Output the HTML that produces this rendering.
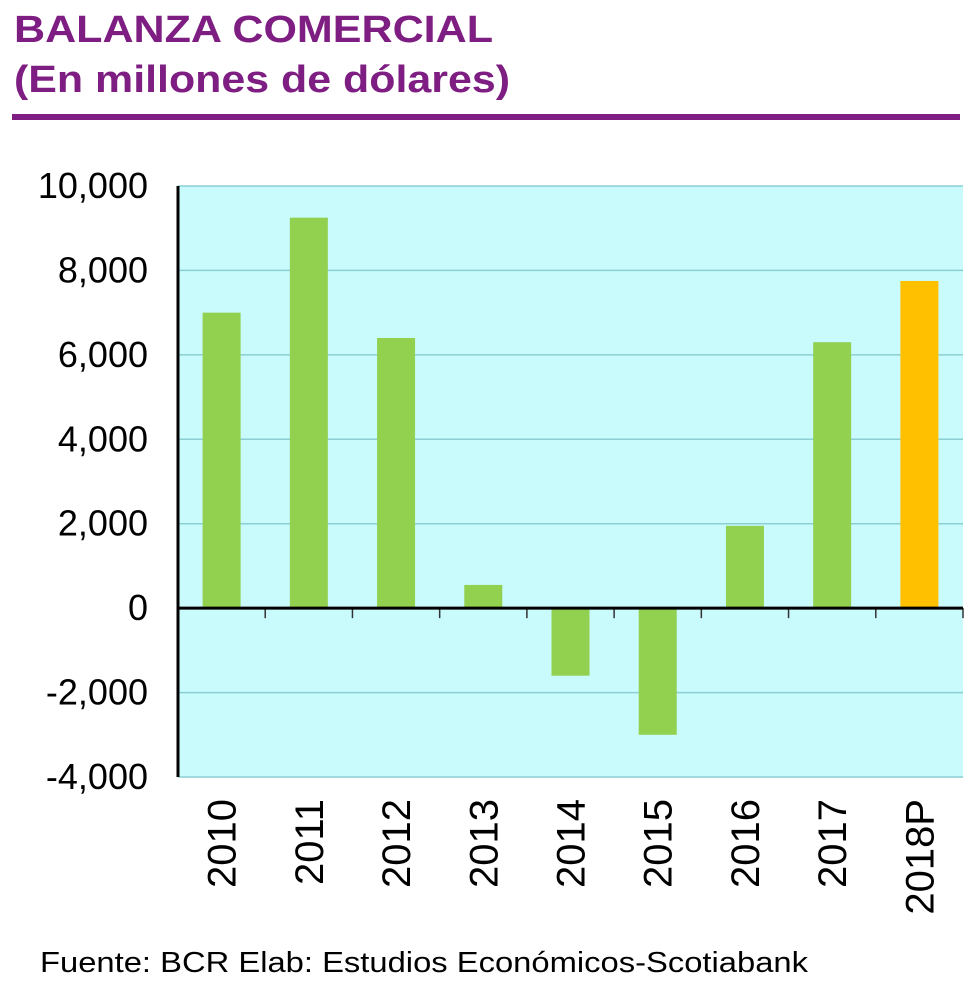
<!DOCTYPE html>
<html><head><meta charset="utf-8"><style>
body{margin:0;background:#fff;width:980px;height:983px;overflow:hidden;font-family:"Liberation Sans",Arial,sans-serif}
</style></head><body>
<svg width="980" height="983" xmlns="http://www.w3.org/2000/svg">
<text x="14" y="42" font-size="38" font-weight="bold" fill="#7e1e82" textLength="479" lengthAdjust="spacingAndGlyphs">BALANZA COMERCIAL</text>
<text x="14" y="92" font-size="38" font-weight="bold" fill="#7e1e82" textLength="496" lengthAdjust="spacingAndGlyphs">(En millones de dólares)</text>
<rect x="12" y="114" width="948" height="6" fill="#7e1e82"/>
<g id="plot"></g>
<text x="40" y="972" font-size="29" fill="#000" textLength="768" lengthAdjust="spacingAndGlyphs">Fuente: BCR  Elab: Estudios Económicos-Scotiabank</text>
</svg>
<script>
const categories=["2010","2011","2012","2013","2014","2015","2016","2017","2018P"];
const values=[7000,9250,6400,550,-1600,-3000,1950,6300,7750];
const colors=["#92d050","#92d050","#92d050","#92d050","#92d050","#92d050","#92d050","#92d050","#ffc000"];
const ticks=[10000,8000,6000,4000,2000,0,-2000,-4000];
const tickLabels=["10,000","8,000","6,000","4,000","2,000","0","-2,000","-4,000"];
const NS="http://www.w3.org/2000/svg";
const L=178,R=963,T=186,B=777,ymin=-4000,ymax=10000;
const y=v=>T+(ymax-v)/(ymax-ymin)*(B-T);
const cw=(R-L)/categories.length;
const x=i=>L+i*cw;
const g=document.getElementById('plot');
function mk(t,a){const e=document.createElementNS(NS,t);for(const k in a)e.setAttribute(k,a[k]);g.appendChild(e);return e;}
let e=mk('rect',{x:L,y:T,width:R-L,height:B-T,fill:'#c9fbfd'});


ticks.forEach((t,i)=>{
  if(t!==0){const gl=mk('line',{x1:L,x2:R,y1:y(t),y2:y(t),stroke:'#8ccfd3','stroke-width':1.5});
  
  }
  const tl=mk('text',{x:148,y:y(t)+12,'font-size':36,'text-anchor':'end',fill:'#000'});
  tl.textContent=tickLabels[i];
  
  
});
values.forEach((v,i)=>{
  const bw=38,cx=x(i)+cw/2;
  const b=mk('rect',{x:cx-bw/2,y:Math.min(y(v),y(0)),width:bw,height:Math.abs(y(v)-y(0)),fill:colors[i]});
  
  
  const lb=mk('text',{transform:`translate(${cx+14},${B+22}) rotate(-90)`,'font-size':40,'text-anchor':'end',fill:'#000'});
  lb.textContent=categories[i];
  
  
});
for(let i=1;i<=categories.length;i++){const tk=mk('line',{x1:x(i),x2:x(i),y1:y(0),y2:y(0)+10,stroke:'#333','stroke-width':1.5});

}
e=mk('line',{x1:L,x2:R,y1:y(0),y2:y(0),stroke:'#000','stroke-width':3});


e=mk('line',{x1:L,x2:L,y1:T,y2:B,stroke:'#000','stroke-width':3});


</script>
</body></html>
